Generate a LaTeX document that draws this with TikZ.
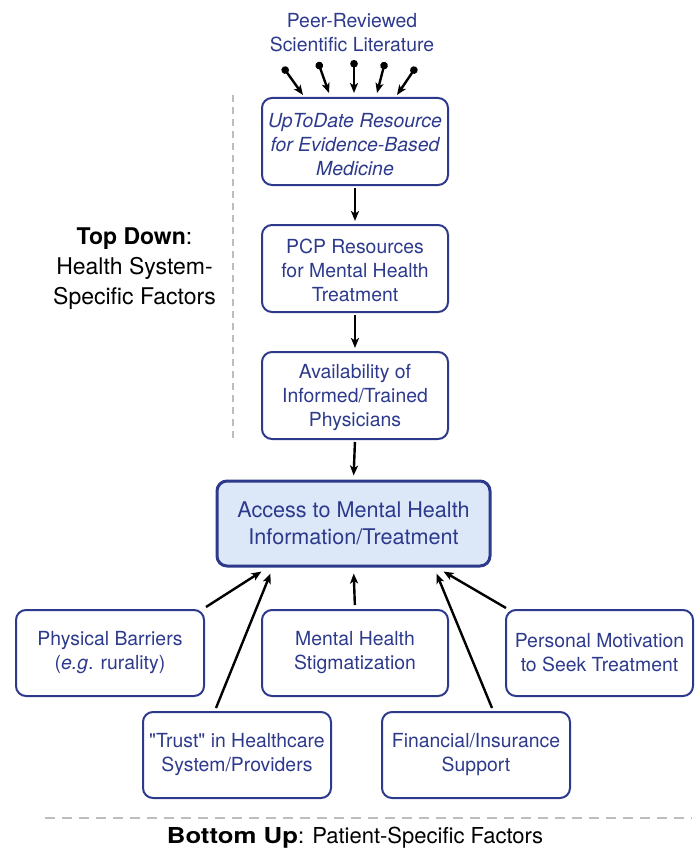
\documentclass[tikz,border=0pt]{standalone}
\usepackage{fontspec}
\setmainfont{TeX Gyre Heros}
\usetikzlibrary{arrows.meta,calc}
\definecolor{boxblue}{HTML}{2D3A8C}
\definecolor{boxfill}{HTML}{DCE7F8}
\definecolor{dashgray}{HTML}{BDBDBD}
\tikzset{
  factor/.style={draw=boxblue, line width=2pt, rounded corners=10pt, text=boxblue,
    align=center, inner sep=0pt, minimum width=186pt, minimum height=87pt,
    font=\fontsize{19.4}{24}\selectfont},
  boxtext/.style={text=boxblue, align=center, inner sep=0pt, font=\fontsize{19.4}{24}\selectfont},
  hub/.style={factor, fill=boxfill, line width=3pt, minimum width=273pt, minimum height=85pt,
    font=\fontsize{21.6}{27}\selectfont},
  flow/.style={line width=2.4pt, -{Stealth[length=10pt,width=8pt,inset=2.5pt]}},
  source/.style={flow, {Circle[length=7.5pt]}-{Stealth[length=10pt,width=8pt,inset=2.5pt]}},
  sidelabel/.style={align=center, font=\fontsize{23}{30}\selectfont, text=black},
  divider/.style={draw=dashgray, line width=2pt}
}
\begin{document}
\begin{tikzpicture}[x=1pt,y=-1pt]
\useasboundingbox (0,0) rectangle (700,848);

% literature source
\node[boxtext] (lit) at (352,33) {Peer-Reviewed\\Scientific Literature};

% top-down chain: frames, then their texts set a little low
\node[factor] (utd) at (355,141.5) {};
\node[boxtext, font=\fontsize{19.4}{24}\selectfont\itshape] (utdtext) at ($(utd.center)+(0,3.5)$)
  {UpToDate Resource\\for Evidence-Based\\Medicine};
\node[factor] (pcp) at (355,268.5) {};
\node[boxtext] (pcptext) at ($(pcp.center)+(0,2)$) {PCP Resources\\for Mental Health\\Treatment};
\node[factor] (avl) at (355,395.5) {};
\node[boxtext] (avltext) at ($(avl.center)+(0,2)$) {Availability of\\Informed/Trained\\Physicians};

% central outcome
\node[hub] (acc) at (353.5,523.5) {Access to Mental Health\\Information/Treatment};

% bottom-up factors
\node[factor, minimum width=188pt, minimum height=86pt] (phys) at (110,653) {Physical Barriers\\(\textit{e.g}. rurality)};
\node[factor, minimum height=86pt] (stig) at (355,653) {Mental Health\\Stigmatization};
\node[factor, minimum width=187pt, minimum height=86pt] (pers) at (599.5,653) {Personal Motivation\\to Seek Treatment};
\node[factor, minimum width=188pt, minimum height=86pt] (trust) at (237,755) {\textquotedbl Trust\textquotedbl{} in Healthcare\\System/Providers};
\node[factor, minimum width=188pt, minimum height=86pt] (fin) at (476,755) {Financial/Insurance\\Support};

% side labels
\node[sidelabel] (topdown) at (134.5,269) {\textbf{Top Down}:\\Health System-\\Specific Factors};
\node[sidelabel, font=\fontsize{22}{26}\selectfont, anchor=base] (bottomup) at (355,843)
  {\scalebox{1.17}[1]{\textbf{Bottom Up}}: Patient-Specific Factors};

% dividers
\coordinate (vtop) at (233,95);
\coordinate (vbot) at (233,440);
\draw[divider, dash pattern=on 7pt off 5pt] (vtop) -- (vbot);
\coordinate (hleft) at (45,818);
\coordinate (hright) at (692,818);
\draw[divider, dash pattern=on 10pt off 7pt] (hleft) -- (hright);

% literature arrows into UpToDate
\coordinate (s1) at (283,67);  \coordinate (e1) at (303,95);
\coordinate (s2) at (318,62);  \coordinate (e2) at (329,93);
\coordinate (s3) at (354,60);  \coordinate (e3) at (354,93);
\coordinate (s4) at (385,62);  \coordinate (e4) at (377,93);
\coordinate (s5) at (416,67);  \coordinate (e5) at (397,95);
\foreach \i in {1,...,5} \draw[source] (s\i) -- (e\i);

% top-down chain arrows
\draw[flow, shorten <=2pt, shorten >=3pt] (utd.south) -- (pcp.north);
\draw[flow, shorten <=2pt, shorten >=3pt] (pcp.south) -- (avl.north);
\draw[flow, shorten <=2pt, shorten >=4pt] (avl.south) -- (acc.north);

% bottom-up arrows
\draw[flow] ($(phys.north east)+(1,-2)$) -- ($(acc.south west)+(46,4)$);
\draw[flow] ($(trust.north west)+(74,-3)$) -- ($(acc.south west)+(55,6)$);
\draw[flow, shorten <=4pt, shorten >=6pt] (stig.north) -- (acc.south);
\draw[flow] ($(fin.north west)+(111,-3)$) -- ($(acc.south west)+(221,6)$);
\draw[flow] ($(pers.north west)+(1,-1)$) -- ($(acc.south west)+(228,4)$);
\end{tikzpicture}
\end{document}
